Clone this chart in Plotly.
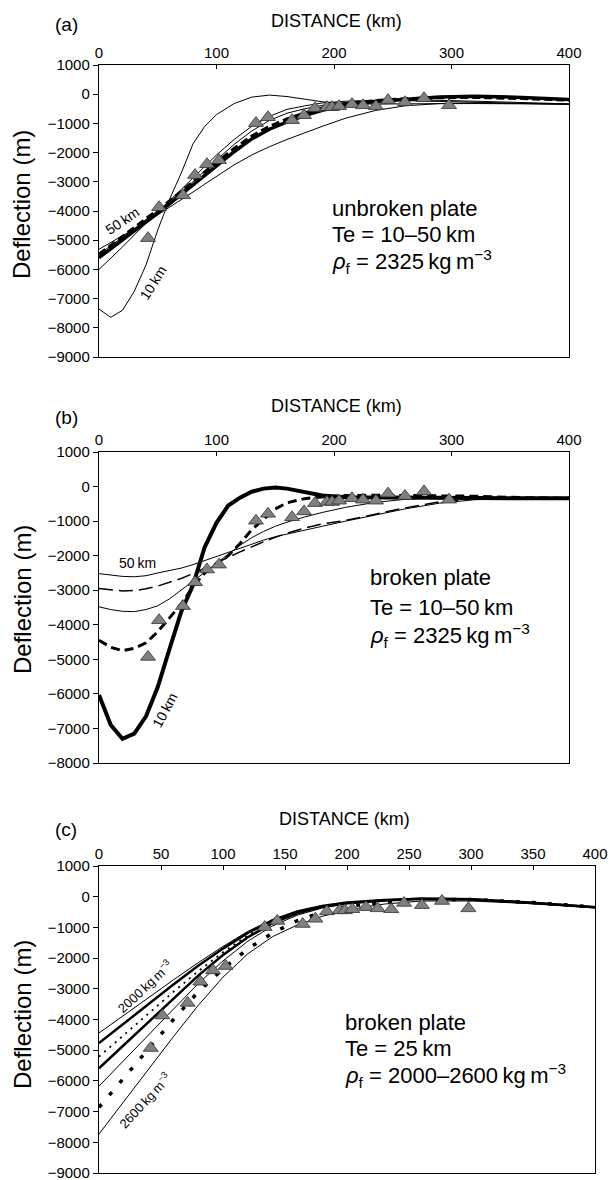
import plotly.graph_objects as go

# ---------------- data ----------------
# observed deflection (triangles), same in all panels
OBS_X = [41.7, 51.1, 71.5, 81.7, 91.9, 102.1, 133.6, 143.8, 164.3, 174.5, 183.8, 194.0,
         198.3, 204.3, 215.3, 224.7, 235.7, 246.0, 260.4, 276.6, 297.9]
OBS_Y = [-4930, -3870, -3460, -2770, -2400, -2260, -990, -790, -890, -720, -480, -445,
         -445, -410, -340, -380, -410, -205, -275, -140, -380]

# panel (a): unbroken plate, Te = 10-50 km
XA = [0, 10, 20, 30, 40, 50, 60, 70, 80, 90, 100, 115, 130, 145, 160, 175, 190, 210,
      235, 260, 290, 320, 360, 400]
A_TE10 = [-7360, -7640, -7400, -6750, -5850, -4650, -3600, -2700, -1700, -1100, -700, -320,
          -100, -30, -80, -180, -260, -320, -340, -330, -320, -320, -330, -340]
A_TE20 = [-6000, -5620, -5230, -4820, -4420, -4100, -3650, -3260, -2870, -2470, -2080, -1550,
          -1100, -760, -520, -400, -300, -240, -210, -220, -250, -290, -330, -350]
A_TE30 = [-5480, -5200, -4900, -4600, -4290, -4000, -3700, -3360, -3000, -2620, -2250, -1720,
          -1260, -900, -650, -500, -380, -290, -230, -210, -210, -240, -290, -330]
A_TE50 = [-5310, -5080, -4850, -4620, -4380, -4130, -3880, -3620, -3350, -3080, -2820, -2420,
          -2080, -1800, -1550, -1320, -1100, -820, -560, -400, -320, -300, -320, -340]
A_BEST = [-5600, -5300, -4990, -4680, -4370, -4070, -3760, -3450, -3110, -2780, -2450, -1970,
          -1530, -1200, -950, -730, -550, -380, -250, -170, -100, -70, -110, -180]
A_DASH = [-5480, -5170, -4860, -4550, -4250, -3960, -3660, -3340, -3000, -2660, -2330, -1860,
          -1430, -1100, -850, -640, -470, -320, -220, -160, -120, -110, -150, -200]

# panel (b): broken plate, Te = 10-50 km
XB = [0, 10, 20, 30, 40, 50, 60, 70, 80, 90, 100, 110, 120, 130, 140, 150, 160, 175, 190,
      210, 235, 260, 290, 320, 360, 400]
B_TE10 = [-6030, -6900, -7300, -7150, -6650, -5800, -4700, -3620, -2850, -1750, -1050, -550,
          -320, -150, -60, -30, -60, -170, -260, -310, -320, -320, -320, -330, -340, -340]
B_TE20 = [-4450, -4650, -4750, -4680, -4520, -4200, -3800, -3400, -2900, -2500, -2250, -2000,
          -1650, -1250, -950, -650, -470, -350, -300, -260, -250, -260, -260, -280, -320, -340]
B_TE30 = [-3480, -3560, -3610, -3620, -3560, -3450, -3250, -3000, -2750, -2480, -2220, -1950,
          -1700, -1480, -1300, -1150, -1030, -880, -750, -600, -460, -370, -320, -310, -320, -340]
B_TE40 = [-2950, -2990, -3020, -3010, -2960, -2880, -2780, -2660, -2520, -2370, -2210, -2050,
          -1890, -1740, -1600, -1470, -1350, -1200, -1080, -980, -800, -620, -440, -360, -330, -340]
B_TE50 = [-2520, -2570, -2600, -2610, -2580, -2500, -2430, -2360, -2260, -2140, -2020, -1900,
          -1780, -1660, -1550, -1450, -1370, -1270, -1150, -1000, -820, -650, -480, -380, -340, -340]

# panel (c): broken plate, Te = 25 km, rho_f = 2000-2600
XC = [0, 20, 40, 60, 80, 100, 120, 140, 160, 180, 200, 230, 260, 300, 350, 400]
C_2000 = [-4440, -3860, -3290, -2710, -2150, -1620, -1130, -740, -470, -300, -200, -120, -80, -90, -200, -340]
C_2100 = [-4770, -4130, -3490, -2860, -2250, -1690, -1180, -770, -480, -300, -190, -110, -70, -80, -200, -340]
C_2200 = [-5210, -4500, -3800, -3100, -2430, -1810, -1260, -820, -510, -320, -200, -110, -70, -80, -200, -340]
C_2300 = [-5590, -4830, -4060, -3300, -2570, -1900, -1320, -860, -540, -330, -210, -120, -70, -80, -200, -340]
C_2400 = [-6170, -5330, -4480, -3640, -2830, -2090, -1450, -950, -600, -370, -230, -130, -80, -90, -200, -340]
C_2500 = [-6860, -5900, -4950, -4000, -3100, -2350, -1700, -1180, -780, -500, -320, -170, -100, -90, -190, -340]
C_2600 = [-7730, -6670, -5610, -4560, -3540, -2620, -1860, -1300, -920, -640, -430, -240, -140, -140, -230, -340]

# ---------------- figure ----------------
W, H = 611, 1180
FONT = "Liberation Sans, Arial, Helvetica, sans-serif"

def px_x(p):
    return p / W

def px_y(p):
    return 1 - p / H

fig = go.Figure()

def line(x, y, ax, width, dash="solid"):
    fig.add_trace(go.Scatter(x=x, y=y, mode="lines", xaxis=ax[0], yaxis=ax[1],
                             line=dict(color="black", width=width, dash=dash),
                             showlegend=False, hoverinfo="skip"))

def obs(ax):
    fig.add_trace(go.Scatter(x=OBS_X, y=OBS_Y, mode="markers", xaxis=ax[0], yaxis=ax[1],
                             marker=dict(symbol="triangle-up", size=13, color="#808080",
                                         line=dict(color="#303030", width=0.8)),
                             showlegend=False, hoverinfo="skip"))

AXA = ("x", "y")
AXB = ("x2", "y2")
AXC = ("x3", "y3")

# panel a
line(XA, A_TE10, AXA, 1)
line(XA, A_TE20, AXA, 1)
line(XA, A_TE30, AXA, 1)
line(XA, A_TE50, AXA, 1)
line(XA, A_DASH, AXA, 3, "8px,4px")
line(XA, A_BEST, AXA, 3.5)
obs(AXA)

# panel b
line(XB, B_TE50, AXB, 1)
line(XB, B_TE40, AXB, 1.5, "14px,6px")
line(XB, B_TE30, AXB, 1)
line(XB, B_TE20, AXB, 3, "9px,5px")
line(XB, B_TE10, AXB, 4)
obs(AXB)

# panel c
line(XC, C_2000, AXC, 1)
line(XC, C_2100, AXC, 2.5)
line(XC, C_2200, AXC, 1.8, "2px,5px")
line(XC, C_2300, AXC, 2.5)
line(XC, C_2400, AXC, 1)
line(XC, C_2500, AXC, 3.5, "4px,12px")
line(XC, C_2600, AXC, 1)
obs(AXC)

TICKFONT = dict(family=FONT, size=15, color="black")

def xaxis_cfg(dom, dtick):
    return dict(domain=dom, range=[0, 400], dtick=dtick, tick0=0, side="top",
                ticks="inside", ticklen=4, tickcolor="black", showline=True, mirror=True,
                linecolor="black", linewidth=1.2, showgrid=False, zeroline=False,
                automargin=False, ticklabeloverflow="allow", tickfont=TICKFONT)

def yaxis_cfg(dom, lo, anchor):
    return dict(domain=dom, range=[lo, 1000], dtick=1000, tick0=0, ticks="outside",
                ticklen=5, tickcolor="black", showline=True, mirror=True,
                linecolor="black", linewidth=1.2, showgrid=False, zeroline=False,
                automargin=False, ticklabeloverflow="allow",
                anchor=anchor, tickfont=TICKFONT)

fig.update_layout(
    width=W, height=H, autosize=False,
    margin=dict(l=0, r=0, t=0, b=0, pad=0, autoexpand=False),
    paper_bgcolor="white", plot_bgcolor="white",
    xaxis=dict(anchor="y", **xaxis_cfg([px_x(99), px_x(569)], 100)),
    yaxis=yaxis_cfg([px_y(357), px_y(65)], -9000, "x"),
    xaxis2=dict(anchor="y2", **xaxis_cfg([px_x(99), px_x(569)], 100)),
    yaxis2=yaxis_cfg([px_y(763), px_y(452)], -8000, "x2"),
    xaxis3=dict(anchor="y3", **xaxis_cfg([px_x(99), px_x(595)], 50)),
    yaxis3=yaxis_cfg([px_y(1173), px_y(866)], -9000, "x3"),
)

ann = []

def paper_text(text, x, y, size, angle=0, xanchor="center"):
    ann.append(dict(text=text, x=px_x(x), y=px_y(y), xref="paper", yref="paper",
                    showarrow=False, textangle=angle, xanchor=xanchor, yanchor="middle",
                    font=dict(family=FONT, size=size, color="black")))

def data_text(text, x, y, ax, size, angle=0, xanchor="center"):
    ann.append(dict(text=text, x=x, y=y, xref=ax[0], yref=ax[1], showarrow=False,
                    textangle=angle, xanchor=xanchor, yanchor="middle",
                    font=dict(family=FONT, size=size, color="black")))

# panel labels, axis titles
for lab, ly, cy in [("(a)", 25, 205), ("(b)", 417, 600), ("(c)", 829, 1015)]:
    paper_text(lab, 66, ly, 19)
    paper_text("Deflection (m)", 22, cy, 24, angle=-90)
paper_text("DISTANCE (km)", 336, 21, 18)
paper_text("DISTANCE (km)", 336, 406, 18)
paper_text("DISTANCE (km)", 344, 819, 18)

# curve labels
data_text("50\u2009km", 19.6, -4350, AXA, 14, angle=-34)
data_text("10\u2009km", 46, -6470, AXA, 14, angle=-58)
data_text("50\u2009km", 33, -2200, AXB, 14)
data_text("10\u2009km", 56, -6460, AXB, 14, angle=-62)
data_text("2000\u2009kg\u2009m<sup>\u22123</sup>", 37, -2910, AXC, 13, angle=-43)
data_text("2600\u2009kg\u2009m<sup>\u22123</sup>", 37, -6620, AXC, 13, angle=-47)

RHO = "<i>\u03c1</i><sub>f</sub> = "
BS = 22
# panel text blocks
data_text("unbroken plate", 197, -3900, AXA, BS, xanchor="left")
data_text("Te = 10\u201350\u2009km", 197, -4800, AXA, BS, xanchor="left")
data_text(RHO + "2325\u2009kg\u2009m<sup>\u22123</sup>", 197, -5720, AXA, BS, xanchor="left")

data_text("broken plate", 229, -2640, AXB, BS, xanchor="left")
data_text("Te = 10\u201350\u2009km", 229, -3510, AXB, BS, xanchor="left")
data_text(RHO + "2325\u2009kg\u2009m<sup>\u22123</sup>", 229, -4320, AXB, BS, xanchor="left")

data_text("broken plate", 197, -4110, AXC, BS, xanchor="left")
data_text("Te = 25\u2009km", 197, -4960, AXC, BS, xanchor="left")
data_text(RHO + "2000\u20132600\u2009kg\u2009m<sup>\u22123</sup>", 197, -5840, AXC, BS, xanchor="left")

fig.update_layout(annotations=ann)

# remove the default page margin so the figure sits at the window corner
fig.write_html("out.html",
               config={"displayModeBar": False, "staticPlot": True},
               post_script="document.body.style.margin='0';"
                           "document.documentElement.style.overflow='hidden';"
                           "document.body.style.overflow='hidden';")
